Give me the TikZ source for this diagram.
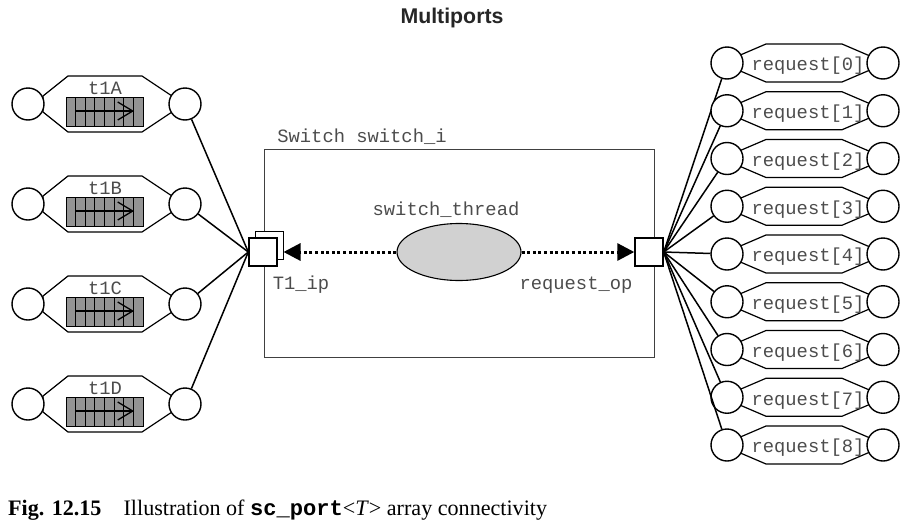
\documentclass[tikz,border=0pt]{standalone}
\usepackage{fontspec}
\setmainfont{Liberation Serif}
\setsansfont{Liberation Sans}
\setmonofont{Liberation Mono}
\usetikzlibrary{arrows.meta,shapes.geometric}

\begin{document}
\begin{tikzpicture}[x=1pt,y=-1pt,
  endpt/.style={draw,circle,minimum size=32pt,inner sep=0pt,fill=white,line width=1.4pt},
  port/.style={draw,fill=white,minimum size=28pt,inner sep=0pt,line width=1.4pt},
  lbl/.style={font=\ttfamily\fontsize{18.8}{20}\selectfont,text=black!70,inner sep=0pt},
  chan/.style={line width=1.2pt},
  link/.style={line width=1.5pt},
  dots/.style={line width=3pt,dash pattern=on 3pt off 2.6pt,-{Triangle[length=17pt,width=17pt]}}]
  \useasboundingbox (0,0) rectangle (904,525);
  \node[font=\sffamily\bfseries\fontsize{21.3}{24}\selectfont,text=black!85] (title) at (452,18) {Multiports};
  % the switch module
	\node[draw,black!75,line width=0.9pt,minimum width=390pt,minimum height=208pt] (sw) at (459,253) {};
	\node[lbl] (swl) at (362,137) {Switch switch\_i};
	\node[draw,ellipse,fill=black!18,minimum width=124pt,minimum height=57pt,line width=1.1pt] (th) at (459,252) {};
	\node[lbl] (thl) at (446,210) {switch\_thread};
	\node[port,line width=1pt] (ipb) at (269,245) {};
	\node[port] (ip) at (263,252) {};
	\node[port] (op) at (649,252) {};
	\node[lbl] (ipl) at (301,285) {T1\_ip};
	\node[lbl] (opl) at (576,285) {request\_op};
	\draw[dots] (th.west) -- (th.west -| ipb.east);
	\draw[dots] (th.east) -- (op.west);
  % t1A..t1D
	\foreach \n/\c in {A/104,B/204,C/304,D/404}{
		\draw[chan] (68,{\c-28}) -- (142,{\c-28}) -- (172,{\c-8}) -- (172,{\c+8}) -- (142,{\c+28})
			-- (68,{\c+28}) -- (43,{\c+8}) -- (43,{\c-8}) -- cycle;
		\node[lbl] (q\n) at (105,{\c-16}) {t1\n};
		\draw[line width=0.9pt,fill=black!42] (66,{\c-7}) rectangle (143,{\c+22});
		\foreach \k in {1,...,7}
			\draw[line width=0.9pt] ({66+9.625*\k},{\c-7}) -- ({66+9.625*\k},{\c+22});
		\draw[line width=1.3pt,-{Straight Barb[length=15pt,width=18pt]}] (76,{\c+7}) -- (134,{\c+7});
		\node[endpt] (l\n) at (28,\c) {};
		\node[endpt] (r\n) at (185,\c) {};
		\draw[link] (r\n) -- (ip.west);
	}
  % request[0]..request[8]
	\foreach \i in {0,...,8}{
		\pgfmathsetmacro\c{63+47.75*\i}
		\draw[chan] (766,{\c-19}) -- (842,{\c-19}) -- (870,{\c-7}) -- (870,{\c+7}) -- (842,{\c+19})
			-- (766,{\c+19}) -- (738,{\c+7}) -- (738,{\c-7}) -- cycle;
		\node[lbl] (m\i) at (808,{\c+3}) {request[\i]};
		\node[endpt] (a\i) at (727,\c) {};
		\node[endpt] (b\i) at (883,\c) {};
		\draw[link] (op.east) -- (a\i);
	}
	\node[anchor=west,font=\fontsize{22.1}{25}\selectfont,inner sep=0pt] (cap) at (8,510)
		{\textbf{Fig. 12.15}\quad Illustration of \texttt{\textbf{sc\_port}}<\textit{T}> array connectivity};
\end{tikzpicture}
\end{document}
